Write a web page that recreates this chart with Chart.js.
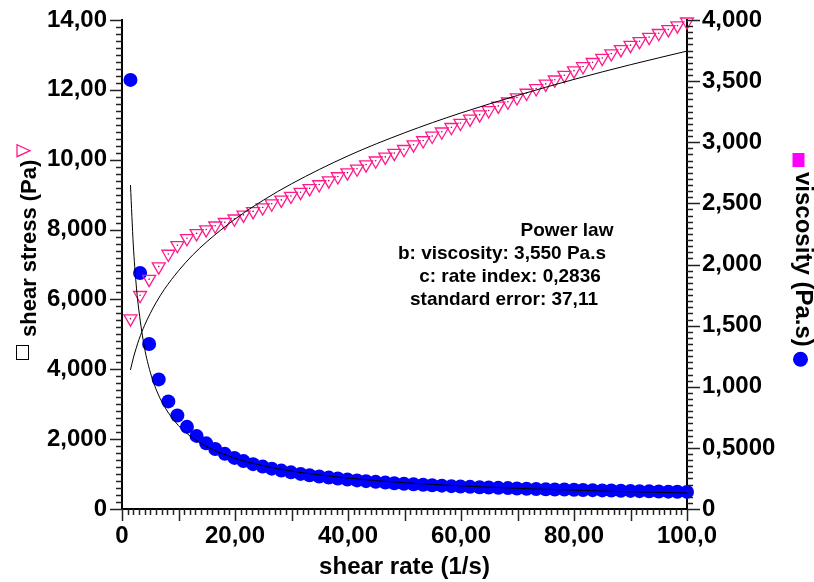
<!DOCTYPE html>
<html>
<head>
<meta charset="utf-8">
<script src="https://cdn.jsdelivr.net/npm/chart.js@4.4.1/dist/chart.umd.min.js"></script>
<style>
  html, body { margin: 0; padding: 0; background: #fff; }
  #wrap { width: 814px; height: 582px; position: relative; }
</style>
</head>
<body>
<div id="wrap"><canvas id="js-flow-chart"></canvas></div>
<script>
// Shear rate (1/s) of each measured point
const shearRate = [1.5, 3.2, 4.8, 6.5, 8.2, 9.8, 11.5, 13.2, 14.9, 16.5,
  18.2, 19.9, 21.5, 23.2, 24.9, 26.5, 28.2, 29.9, 31.6, 33.2,
  34.9, 36.6, 38.2, 39.9, 41.6, 43.2, 44.9, 46.6, 48.2, 49.9,
  51.6, 53.3, 54.9, 56.6, 58.3, 59.9, 61.6, 63.3, 64.9, 66.6,
  68.3, 69.9, 71.6, 73.3, 75.0, 76.6, 78.3, 80.0, 81.6, 83.3,
  85.0, 86.6, 88.3, 90.0, 91.6, 93.3, 95.0, 96.7, 98.3, 100.0];

// Shear stress (Pa), left axis
const shearStress = [5.45, 6.12, 6.58, 6.94, 7.30, 7.55, 7.75, 7.89, 8.00, 8.11,
  8.21, 8.31, 8.42, 8.52, 8.63, 8.74, 8.85, 8.96, 9.07, 9.18,
  9.29, 9.40, 9.52, 9.63, 9.74, 9.86, 9.97, 10.08, 10.19, 10.30,
  10.43, 10.55, 10.68, 10.80, 10.93, 11.05, 11.17, 11.29, 11.41, 11.54,
  11.66, 11.78, 11.91, 12.04, 12.17, 12.29, 12.42, 12.55, 12.67, 12.79,
  12.91, 13.04, 13.16, 13.28, 13.39, 13.51, 13.62, 13.73, 13.84, 13.95];

// Viscosity (Pa.s), right axis
const viscosity = [3.51, 1.93, 1.35, 1.06, 0.880, 0.765, 0.672, 0.598, 0.537, 0.491,
  0.451, 0.418, 0.392, 0.367, 0.347, 0.330, 0.314, 0.300, 0.287, 0.276,
  0.266, 0.257, 0.249, 0.241, 0.234, 0.228, 0.222, 0.216, 0.211, 0.206,
  0.202, 0.198, 0.194, 0.191, 0.187, 0.184, 0.181, 0.178, 0.176, 0.173,
  0.171, 0.168, 0.166, 0.164, 0.162, 0.160, 0.159, 0.157, 0.155, 0.154,
  0.152, 0.151, 0.149, 0.148, 0.146, 0.145, 0.143, 0.142, 0.141, 0.140];

// Power law fit curves
const fitRate = [1.5, 2, 2.5, 3, 4, 5, 6, 7.5, 10, 12.5, 15, 20, 25, 30, 40, 50, 60, 70, 80, 90, 100];
const fitStress = [3.98, 4.32, 4.60, 4.85, 5.26, 5.60, 5.90, 6.29, 6.82, 7.27, 7.65,
  8.30, 8.84, 9.31, 10.11, 10.77, 11.34, 11.84, 12.30, 12.72, 13.11];
const fitViscosity = [2.65, 2.16, 1.84, 1.62, 1.315, 1.12, 0.983, 0.839, 0.682, 0.582, 0.510,
  0.415, 0.354, 0.310, 0.253, 0.215, 0.189, 0.169, 0.154, 0.141, 0.131];

// Tick labels
const xTickLabels = ['0', '20,00', '40,00', '60,00', '80,00', '100,0'];
const stressTickLabels = ['0', '2,000', '4,000', '6,000', '8,000', '10,00', '12,00', '14,00'];
const viscTickLabels = ['0', '0,5000', '1,000', '1,500', '2,000', '2,500', '3,000', '3,500', '4,000'];

const fitLines = ['Power law', 'b: viscosity: 3,550 Pa.s', 'c: rate index: 0,2836', 'standard error: 37,11'];

const FONT = '"Liberation Sans", Arial, sans-serif';
const PINK = '#ff1a8c';
const BLUE = '#0000ff';

function pairs(xs, ys) {
  return xs.map((x, i) => ({ x: x, y: ys[i] }));
}

// keep the plot box where the reference has it
function fixWidth(w) {
  return function (scale) {
    scale.width = w;
    scale.paddingTop = 0;
    scale.paddingBottom = 0;
  };
}

// Minor / major tick marks, axis titles with their symbols, fit box text
const decorPlugin = {
  id: 'decor',
  afterDraw(chart) {
    const ctx = chart.ctx;
    const { x, y, y2 } = chart.scales;
    const area = chart.chartArea;
    ctx.save();
    ctx.strokeStyle = '#222';
    ctx.lineWidth = 1.5;
    ctx.beginPath();
    for (let i = 0; i <= 100; i++) {
      const px = Math.round(x.getPixelForValue(i)) + 0.5;
      const len = i % 10 === 0 ? 12 : 6;
      ctx.moveTo(px, area.bottom);
      ctx.lineTo(px, area.bottom + len);
    }
    for (let i = 0; i <= 70; i++) {
      const py = Math.round(y.getPixelForValue(i * 0.2)) + 0.5;
      const len = i % 10 === 0 ? 12 : 6;
      ctx.moveTo(area.left, py);
      ctx.lineTo(area.left - len, py);
    }
    for (let i = 0; i <= 80; i++) {
      const py = Math.round(y2.getPixelForValue(i * 0.05)) + 0.5;
      const len = i % 10 === 0 ? 13 : 6;
      ctx.moveTo(area.right, py);
      ctx.lineTo(area.right + len, py);
    }
    ctx.stroke();

    // left title, reading upwards
    ctx.save();
    ctx.translate(36, 360);
    ctx.rotate(-Math.PI / 2);
    ctx.fillStyle = '#fff';
    ctx.strokeStyle = '#000';
    ctx.lineWidth = 1;
    ctx.fillRect(0.5, -19.5, 14, 12);
    ctx.strokeRect(0.5, -19.5, 14, 12);
    ctx.font = 'bold 22px ' + FONT;
    ctx.fillStyle = '#000';
    ctx.textBaseline = 'alphabetic';
    ctx.textAlign = 'left';
    const leftText = 'shear stress (Pa)';
    ctx.fillText(leftText, 23, 0);
    const tEnd = 23 + ctx.measureText(leftText).width + 3;
    ctx.strokeStyle = PINK;
    ctx.lineWidth = 1.3;
    ctx.beginPath();
    ctx.moveTo(tEnd, -19);
    ctx.lineTo(tEnd + 12, -19);
    ctx.lineTo(tEnd + 6, -6);
    ctx.closePath();
    ctx.stroke();
    ctx.restore();

    // right title, reading downwards
    ctx.save();
    ctx.translate(796, 150);
    ctx.rotate(Math.PI / 2);
    ctx.fillStyle = '#ff00ff';
    ctx.fillRect(3, -8.5, 14, 12);
    ctx.font = 'bold 24px ' + FONT;
    ctx.fillStyle = '#000';
    ctx.textBaseline = 'alphabetic';
    ctx.textAlign = 'left';
    const rightText = 'viscosity (Pa.s)';
    ctx.fillText(rightText, 22, 0);
    const rEnd = 22 + ctx.measureText(rightText).width + 5;
    ctx.fillStyle = BLUE;
    ctx.beginPath();
    ctx.arc(rEnd + 7.5, -4.5, 7.5, 0, Math.PI * 2);
    ctx.fill();
    ctx.restore();

    // power law fit text
    ctx.font = 'bold 19px ' + FONT;
    ctx.fillStyle = '#000';
    ctx.textAlign = 'center';
    ctx.textBaseline = 'alphabetic';
    const centers = [567, 502, 510, 504];
    fitLines.forEach((t, i) => {
      ctx.fillText(t, centers[i], 236 + i * 23);
    });
    ctx.restore();
  }
};

const chartContext = document.getElementById('js-flow-chart').getContext('2d');

const flowChart = new Chart(chartContext, {
  type: 'scatter',
  data: {
    datasets: [
      {
        label: 'viscosity fit',
        type: 'line',
        data: pairs(fitRate, fitViscosity),
        yAxisID: 'y2',
        borderColor: '#000',
        borderWidth: 1,
        pointRadius: 0,
        cubicInterpolationMode: 'monotone',
        fill: false,
      },
      {
        label: 'stress fit',
        type: 'line',
        data: pairs(fitRate, fitStress),
        yAxisID: 'y',
        borderColor: '#000',
        borderWidth: 1,
        pointRadius: 0,
        cubicInterpolationMode: 'monotone',
        fill: false,
      },
      {
        label: 'stress centre',
        data: pairs(shearRate, shearStress),
        yAxisID: 'y',
        pointStyle: 'circle',
        pointRadius: 0.8,
        backgroundColor: '#a0104a',
        borderWidth: 0,
        clip: false,
      },
      {
        label: 'shear stress',
        data: pairs(shearRate, shearStress),
        yAxisID: 'y',
        pointStyle: 'triangle',
        rotation: 180,
        pointRadius: 7.5,
        backgroundColor: 'rgba(0,0,0,0)',
        borderColor: PINK,
        borderWidth: 1.3,
        clip: false,
      },
      {
        label: 'viscosity',
        data: pairs(shearRate, viscosity),
        yAxisID: 'y2',
        pointStyle: 'circle',
        pointRadius: 7,
        backgroundColor: BLUE,
        borderColor: BLUE,
        borderWidth: 0,
        clip: false,
      },
    ],
  },
  options: {
    responsive: true,
    maintainAspectRatio: false,
    animation: false,
    layout: { padding: { top: 20, left: 0, right: 0, bottom: 0 } },
    plugins: {
      legend: { display: false },
      tooltip: { enabled: false },
    },
    scales: {
      x: {
        type: 'linear',
        min: 0,
        max: 100,
        afterFit(scale) { scale.height = 73; },
        grid: { display: false, drawTicks: false },
        border: { display: true, color: '#000', width: 2 },
        ticks: {
          stepSize: 20,
          padding: 13,
          color: '#000',
          font: { family: FONT, size: 24, weight: 'bold' },
          maxRotation: 0,
          callback: function (value, index) {
            return xTickLabels[index];
          },
        },
        title: {
          display: true,
          text: 'shear rate (1/s)',
          color: '#000',
          font: { family: FONT, size: 24, weight: 'bold' },
          padding: { top: 0, bottom: 0 },
        },
      },
      y: {
        position: 'left',
        min: 0,
        max: 14,
        afterFit: fixWidth(122),
        grid: { display: false, drawTicks: false },
        border: { display: true, color: '#000', width: 2 },
        ticks: {
          stepSize: 2,
          padding: 15,
          color: '#000',
          font: { family: FONT, size: 24, weight: 'bold' },
          callback: function (value, index) {
            return stressTickLabels[index];
          },
        },
      },
      y2: {
        position: 'right',
        min: 0,
        max: 4,
        afterFit: fixWidth(127),
        grid: { display: false, drawTicks: false },
        border: { display: true, color: '#000', width: 2 },
        ticks: {
          stepSize: 0.5,
          padding: 15,
          color: '#000',
          font: { family: FONT, size: 24, weight: 'bold' },
          callback: function (value, index) {
            return viscTickLabels[index];
          },
        },
      },
    },
  },
  plugins: [decorPlugin],
});
</script>
</body>
</html>
